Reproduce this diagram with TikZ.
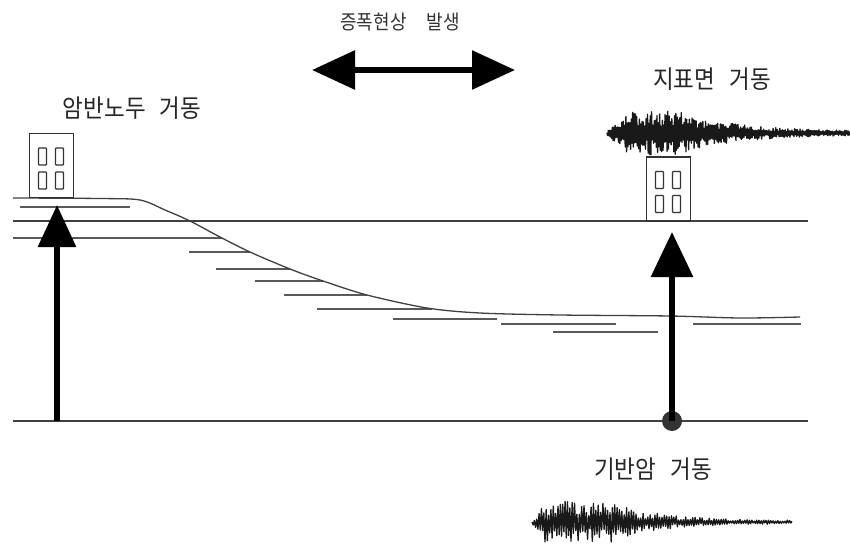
\documentclass[tikz,border=0pt]{standalone}
\usepackage{fontspec}
\newfontfamily\kr[FakeStretch=0.9]{Noto Sans CJK KR}
\usetikzlibrary{arrows.meta}
\begin{document}
\begin{tikzpicture}[x=1pt,y=-1pt,
  ground/.style={draw=black!75, line width=1.4pt},
  layer/.style={draw=black!65, line width=1.4pt},
  label/.style={font=\kr\fontsize{25}{27}\selectfont, text=black!85, inner sep=0pt},
  smalllabel/.style={font=\kr\fontsize{20}{22}\selectfont, text=black!80, inner sep=0pt},
  bigarrow/.style={line width=6pt, -{Triangle[length=43pt,width=38pt]}},
  wave/.style={line width=1.3pt, line join=round, black!90},
  bldg/.pic={
    \draw[line width=1.3pt, draw=black!80, fill=white] (-22,-32) rectangle (22,32);
    \foreach \dx in {-9,8}
      \foreach \dy in {-9,15}
        \draw[line width=1.2pt, draw=black!80, rounded corners=0.8pt] (\dx-4,\dy-8.5) rectangle (\dx+4,\dy+8.5);
  }
]
\useasboundingbox (0,0) rectangle (850,543);

% surface and bedrock lines
\draw[ground] (13,221) -- (808,221);
\draw[ground] (13,421) -- (808,421);

% soil layering under the slope
\draw[layer] (20,207) -- (130,207);
\draw[layer] (13,238) -- (222,238);
\draw[layer] (189,252) -- (250,252);
\draw[layer] (216,269) -- (290,269);
\draw[layer] (255,281) -- (323,281);
\draw[layer] (284,295) -- (367,295);
\draw[layer] (317,309) -- (432,309);
\draw[layer] (393,319) -- (497,319);
\draw[layer] (501,324) -- (616,324);
\draw[layer] (553,332) -- (658,332);
\draw[layer] (693,324) -- (801,324);

% rock outcrop profile sloping down into the basin
\draw[ground, line width=1.3pt] plot[smooth, tension=0.5] coordinates {
  (13,198) (100,198.5) (140,200) (165,210) (190,221) (220,237) (250,252)
  (290,269) (323,281) (367,295) (427,308) (480,313) (560,315) (670,316)
  (740,318) (800,317)};

% buildings
\pic at (51.5,165.5) {bldg};
\pic at (668.5,189) {bldg};

% upward propagation arrows
\coordinate (rockbase) at (57,421);
\coordinate (rocktop) at (57,205);
\draw[bigarrow, -{Triangle[length=42pt,width=37pt]}] (rockbase) -- (rocktop);

\node[circle, fill=black!80, minimum size=20pt, inner sep=0pt] (source) at (672,421) {};
\coordinate (soiltop) at (672,232);
\draw[bigarrow, -{Triangle[length=45pt,width=41pt]}] (source.center) -- (soiltop);

% amplification arrow
\coordinate (ampL) at (312,70);
\coordinate (ampR) at (515,70);
\draw[line width=6pt, {Triangle[length=43pt,width=38pt]}-{Triangle[length=43pt,width=38pt]}] (ampL) -- (ampR);

% labels
\node[smalllabel] (amp) at (400,22) {증폭현상\hspace{20pt}발생};
\node[label] (outcrop) at (132,108) {암반노두\hspace{14pt}거동};
\node[label] (surface) at (712,79) {지표면\hspace{14pt}거동};
\node[label] (bedrock) at (653,469) {기반암\hspace{14pt}거동};

% surface record
\pgfmathsetseed{11}
\draw[wave] (607,133) \foreach \i in {1,...,360}{
  -- ({607+\i*0.675},
      {133 + (2*mod(\i,2)-1)*(0.3+0.7*rnd)*(2+20*min(1,\i/29)*exp(-4.5*max(0,\i/360-0.3)))})
};

% bedrock record
\pgfmathsetseed{5}
\draw[wave] (532,522) \foreach \i in {1,...,220}{
  -- ({532+\i*1.1818},
      {522 + (2*mod(\i,2)-1)*(0.3+0.7*rnd)*(1.5+19*min(1,\i/11)*exp(-5.5*max(0,\i/220-0.3)))})
};
\end{tikzpicture}
\end{document}
